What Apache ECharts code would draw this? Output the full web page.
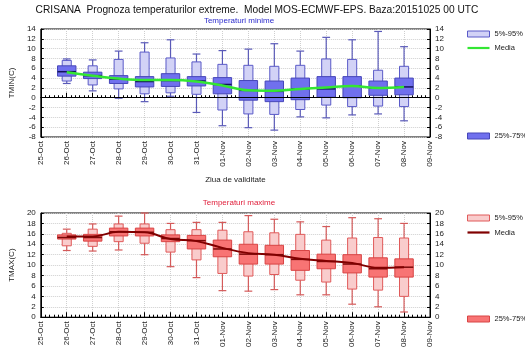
<!DOCTYPE html>
<html>
<head>
<meta charset="utf-8">
<script src="https://cdn.jsdelivr.net/npm/echarts@6/dist/echarts.min.js"></script>
<style>
  html, body { margin: 0; padding: 0; background: #fff; }
  #chart { width: 525px; height: 350px; }
</style>
</head>
<body>
<div id="chart"></div>
<script>
// zilele de pe axa x (25-Oct ... 09-Nov), cutiile stau pe indicii 1..14
var days = ["25-Oct", "26-Oct", "27-Oct", "28-Oct", "29-Oct", "30-Oct", "31-Oct", "01-Nov",
  "02-Nov", "03-Nov", "04-Nov", "05-Nov", "06-Nov", "07-Nov", "08-Nov", "09-Nov"];
var boxDays = [1, 2, 3, 4, 5, 6, 7, 8, 9, 10, 11, 12, 13, 14];

// TMIN
var tminMax = [7.9, 7.7, 9.5, 11.2, 11.8, 8.9, 9.6, 9.9, 11.0, 9.5, 12.3, 11.8, 13.5, 10.4];
var tminP95 = [7.6, 6.5, 7.8, 9.3, 8.1, 7.3, 6.8, 6.6, 6.4, 6.6, 7.9, 7.8, 5.6, 6.4];
var tminP75 = [6.5, 5.2, 4.5, 4.3, 4.9, 4.3, 4.1, 3.5, 3.4, 4.0, 4.3, 4.3, 3.4, 4.0];
var tminMed = [5.3, 4.5, 3.8, 3.3, 3.5, 3.4, 2.7, 1.5, 1.3, 1.8, 1.8, 2.4, 2.0, 2.2];
var tminP25 = [4.4, 3.9, 2.9, 2.2, 2.3, 2.4, 0.8, -0.5, -0.8, -0.4, 0.1, 0.0, 0.5, 0.6];
var tminP5 = [3.4, 2.6, 1.8, 0.8, 1.0, 0.7, -2.5, -3.3, -3.4, -2.4, -1.5, -1.8, -1.7, -1.8];
var tminMin = [2.9, 1.4, -0.1, -0.8, 0.3, -3.0, -5.7, -6.1, -6.6, -3.9, -4.1, -3.5, -3.3, -4.7];
var tminMean = [5.2, 4.5, 3.9, 3.6, 3.6, 3.3, 2.5, 1.5, 1.4, 1.8, 2.1, 2.4, 2.0, 2.2];

// TMAX
var tmaxMax = [16.9, 17.9, 19.4, 20.0, 18.0, 18.2, 18.2, 19.5, 18.8, 18.3, 17.4, 19.1, 18.9, 18.0];
var tmaxP95 = [16.1, 16.9, 17.9, 17.9, 16.8, 16.8, 16.7, 16.4, 16.2, 15.9, 14.8, 15.2, 15.3, 15.2];
var tmaxP75 = [15.8, 15.9, 17.1, 17.1, 15.8, 15.7, 14.8, 14.0, 13.8, 12.8, 12.1, 12.0, 11.4, 11.2];
var tmaxMed = [15.3, 15.3, 16.4, 16.3, 15.1, 14.7, 13.1, 12.1, 12.0, 11.1, 10.7, 10.2, 9.3, 9.6];
var tmaxP25 = [15.0, 14.6, 15.6, 15.6, 14.5, 13.1, 11.6, 10.2, 10.2, 9.0, 9.3, 8.5, 7.7, 7.7];
var tmaxP5 = [13.7, 13.6, 14.5, 14.2, 12.5, 11.0, 8.4, 7.9, 8.2, 7.1, 6.75, 5.4, 5.2, 4.0];
var tmaxMin = [12.8, 12.7, 12.9, 12.0, 9.7, 7.6, 5.1, 5.0, 5.3, 4.3, 4.3, 2.5, 2.0, 1.0];
var tmaxMean = [15.5, 15.5, 16.4, 16.3, 15.0, 14.6, 13.3, 12.3, 12.0, 11.2, 10.8, 10.4, 9.5, 9.6];

var blue = { light: "#d2d2f6", lightBorder: "#5a5ac8", dark: "#7070ee", darkBorder: "#4646b8", whisker: "#5a5ab8", median: "#14145a", mean: "#33e633" };
var red = { light: "#f9cccc", lightBorder: "#e05a5a", dark: "#f87474", darkBorder: "#d84444", whisker: "#d45a5a", median: "#7a0a0a", mean: "#800000" };

function zip() {
  var cols = Array.prototype.slice.call(arguments);
  return boxDays.map(function (d, i) {
    return [d].concat(cols.map(function (c) { return c[i]; }));
  });
}

// mustata + cutia 5%-95%
function whiskerRender(c) {
  return function (params, api) {
    var x = api.value(0);
    var band = api.size([1, 0])[0];
    var lo = api.coord([x, api.value(1)]);
    var p5 = api.coord([x, api.value(2)]);
    var p95 = api.coord([x, api.value(3)]);
    var hi = api.coord([x, api.value(4)]);
    var cw = band * 0.3, bw = band * 0.35;
    var ls = { stroke: c.whisker, lineWidth: 1.2 };
    return {
      type: "group",
      children: [
        { type: "line", shape: { x1: hi[0], y1: hi[1], x2: lo[0], y2: lo[1] }, style: ls },
        { type: "line", shape: { x1: hi[0] - cw / 2, y1: hi[1], x2: hi[0] + cw / 2, y2: hi[1] }, style: ls },
        { type: "line", shape: { x1: lo[0] - cw / 2, y1: lo[1], x2: lo[0] + cw / 2, y2: lo[1] }, style: ls },
        { type: "rect", shape: { x: p95[0] - bw / 2, y: p95[1], width: bw, height: p5[1] - p95[1] },
          style: { fill: c.light, stroke: c.lightBorder, lineWidth: 1 } }
      ]
    };
  };
}

// cutia 25%-75% + mediana
function quartRender(c) {
  return function (params, api) {
    var x = api.value(0);
    var band = api.size([1, 0])[0];
    var p25 = api.coord([x, api.value(1)]);
    var med = api.coord([x, api.value(2)]);
    var p75 = api.coord([x, api.value(3)]);
    var bw = band * 0.71;
    return {
      type: "group",
      children: [
        { type: "rect", shape: { x: p75[0] - bw / 2, y: p75[1], width: bw, height: p25[1] - p75[1] },
          style: { fill: c.dark, stroke: c.darkBorder, lineWidth: 1 } },
        { type: "line", shape: { x1: med[0] - bw / 2, y1: med[1], x2: med[0] + bw / 2, y2: med[1] },
          style: { stroke: c.median, lineWidth: 1.5 } }
      ]
    };
  };
}

var font = "Liberation Sans";
var txt = "#222";
var lineIcon = "path://M0,0L22,0L22,2.2L0,2.2Z";

function xAxisFor(gi, name) {
  return {
    type: "value", gridIndex: gi, min: 0, max: 15, interval: 1,
    name: name, nameLocation: "middle", nameGap: 39,
    nameTextStyle: { fontFamily: font, fontSize: 8, color: txt },
    axisLine: { lineStyle: { color: "#000", width: 1 } },
    axisTick: { inside: true, length: 5, lineStyle: { color: "#000" } },
    minorTick: { show: true, splitNumber: 6, length: 2.5, lineStyle: { color: "#000" } },
    axisLabel: { rotate: 90, fontFamily: font, fontSize: 8, color: txt, margin: 4,
      formatter: function (v) { return days[v]; } },
    splitLine: { show: true, lineStyle: { color: "#cfcfcf", type: "dotted" } }
  };
}

function yAxisFor(gi, min, max, pos, name) {
  return {
    type: "value", gridIndex: gi, min: min, max: max, interval: 2, position: pos,
    name: name, nameLocation: "middle", nameGap: 22, nameRotate: 90,
    nameTextStyle: { fontFamily: font, fontSize: 8, color: txt },
    axisLine: { show: true, lineStyle: { color: "#000" } },
    axisTick: { show: true, inside: true, length: 3, lineStyle: { color: "#000" } },
    axisLabel: { fontFamily: font, fontSize: 8, color: txt, margin: 5 },
    splitLine: { show: pos === "left", lineStyle: { color: "#cfcfcf", type: "dotted" } }
  };
}

function legendFor(top, gap, items) {
  return {
    orient: "vertical", left: 462, top: top, itemWidth: 22, itemHeight: 6, itemGap: gap,
    textStyle: { fontFamily: font, fontSize: 7.5, color: txt },
    data: items
  };
}

var myChart = echarts.init(document.getElementById("chart"));
var option = {
  backgroundColor: "#fff",
  animation: false,
  title: [
    { text: "CRISANA  Prognoza temperaturilor extreme.  Model MOS-ECMWF-EPS. Baza:20151025 00 UTC",
      left: 252, top: 0, textAlign: "center",
      textStyle: { fontFamily: font, fontSize: 10.2, fontWeight: "normal", color: "#111" } },
    { text: "Temperaturi minime", left: 234, top: 12, textAlign: "center",
      textStyle: { fontFamily: font, fontSize: 8, fontWeight: "normal", color: "#2a2acc" } },
    { text: "Temperaturi maxime", left: 234, top: 194, textAlign: "center",
      textStyle: { fontFamily: font, fontSize: 8, fontWeight: "normal", color: "#e0203c" } }
  ],
  grid: [
    { left: 40, top: 29, width: 390, height: 108, show: true, borderColor: "#000", borderWidth: 1, backgroundColor: "transparent" },
    { left: 40, top: 213, width: 390, height: 108, show: true, borderColor: "#000", borderWidth: 1, backgroundColor: "transparent" }
  ],
  xAxis: [xAxisFor(0, "Ziua de validitate"), xAxisFor(1, "")],
  yAxis: [
    yAxisFor(0, -8, 14, "left", "TMIN(C)"),
    yAxisFor(0, -8, 14, "right", ""),
    yAxisFor(1, 0, 20, "left", "TMAX(C)"),
    yAxisFor(1, 0, 20, "right", "")
  ],
  legend: [
    legendFor(25, 6, [
      { name: "5%-95%", icon: "rect", itemStyle: { color: blue.light, borderColor: blue.lightBorder, borderWidth: 1 } },
      { name: "Media", icon: lineIcon, itemStyle: { color: blue.mean, borderWidth: 0 } }
    ]),
    legendFor(127, 6, [
      { name: "25%-75%", icon: "rect", itemStyle: { color: blue.dark, borderColor: blue.darkBorder, borderWidth: 1 } }
    ]),
    legendFor(209, 6.5, [
      { name: "5%-95%", icon: "rect", itemStyle: { color: red.light, borderColor: red.lightBorder, borderWidth: 1 } },
      { name: "Media", icon: lineIcon, itemStyle: { color: red.mean, borderWidth: 0 } }
    ]),
    legendFor(310, 6, [
      { name: "25%-75%", icon: "rect", itemStyle: { color: red.dark, borderColor: red.darkBorder, borderWidth: 1 } }
    ])
  ],
  series: [
    {
      name: "5%-95%", type: "custom", xAxisIndex: 0, yAxisIndex: 0,
      itemStyle: { color: blue.light, borderColor: blue.lightBorder },
      renderItem: whiskerRender(blue),
      encode: { x: 0, y: [1, 2, 3, 4] },
      data: zip(tminMin, tminP5, tminP95, tminMax),
      markLine: { silent: true, symbol: "none", label: { show: false },
        lineStyle: { color: "#000", type: "solid", width: 1 }, data: [{ yAxis: 0 }] }
    },
    {
      name: "25%-75%", type: "custom", xAxisIndex: 0, yAxisIndex: 0,
      itemStyle: { color: blue.dark, borderColor: blue.darkBorder },
      renderItem: quartRender(blue),
      encode: { x: 0, y: [1, 2, 3] },
      data: zip(tminP25, tminMed, tminP75)
    },
    {
      name: "Media", type: "line", xAxisIndex: 0, yAxisIndex: 0, smooth: 0.4,
      symbol: "none", z: 5,
      lineStyle: { color: blue.mean, width: 2.5 }, itemStyle: { color: blue.mean },
      data: zip(tminMean)
    },
    {
      name: "5%-95%", type: "custom", xAxisIndex: 1, yAxisIndex: 2,
      itemStyle: { color: red.light, borderColor: red.lightBorder },
      renderItem: whiskerRender(red),
      encode: { x: 0, y: [1, 2, 3, 4] },
      data: zip(tmaxMin, tmaxP5, tmaxP95, tmaxMax)
    },
    {
      name: "25%-75%", type: "custom", xAxisIndex: 1, yAxisIndex: 2,
      itemStyle: { color: red.dark, borderColor: red.darkBorder },
      renderItem: quartRender(red),
      encode: { x: 0, y: [1, 2, 3] },
      data: zip(tmaxP25, tmaxMed, tmaxP75)
    },
    {
      name: "Media", type: "line", xAxisIndex: 1, yAxisIndex: 2, smooth: 0.4,
      symbol: "none", z: 5,
      lineStyle: { color: red.mean, width: 2 }, itemStyle: { color: red.mean },
      data: zip(tmaxMean)
    }
  ]
};
myChart.setOption(option);
</script>
</body>
</html>
